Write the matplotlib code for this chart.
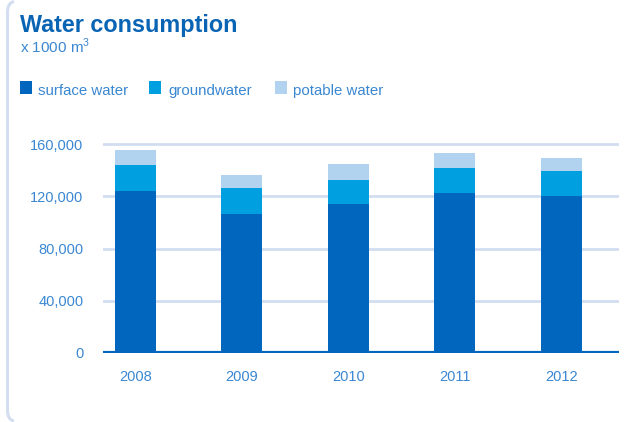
import matplotlib
matplotlib.use("Agg")
import matplotlib.pyplot as plt
from matplotlib.path import Path
from matplotlib.patches import PathPatch
import numpy as np

plt.rcParams['font.family'] = ['Liberation Sans', 'DejaVu Sans']
plt.rcParams['mathtext.fontset'] = 'custom'
plt.rcParams['mathtext.rm'] = 'Liberation Sans'

years = ["2008", "2009", "2010", "2011", "2012"]
surface_water = [124000, 106400, 114100, 122500, 120200]
groundwater = [19900, 19900, 18300, 19100, 19100]
potable_water = [11500, 10000, 12300, 11500, 10000]
y_ticks = [0, 40000, 80000, 120000, 160000]
y_tick_labels = ["0", "40,000", "80,000", "120,000", "160,000"]

c_surface = "#0066be"
c_ground = "#009fe0"
c_potable = "#b1d3f0"
c_grid = "#d2def0"
c_text = "#3a87d2"
c_title = "#0a64b4"

W, H = 644, 422
fig = plt.figure(figsize=(W / 100, H / 100), dpi=100)

# left frame with rounded ends
frame = Path([(14 / W, 1 - 1.5 / H), (7.5 / W, 1 - 3 / H), (7.5 / W, 1 - 12 / H),
              (7.5 / W, 1 - 410 / H), (7.5 / W, 1 - 420 / H), (14 / W, 1 - 421 / H)],
             [Path.MOVETO, Path.CURVE3, Path.CURVE3, Path.LINETO, Path.CURVE3, Path.CURVE3])
fig.patches.append(PathPatch(frame, transform=fig.transFigure, fill=False,
                             edgecolor="#d3def0", linewidth=2.2))

fig.text(20 / W, 1 - 32 / H, "Water consumption", fontsize=16.8, fontweight="bold",
         color=c_title, ha="left", va="baseline")
fig.text(20 / W, 1 - 53 / H, r"x 1000 m$^\mathrm{3}$", fontsize=11, color=c_text,
         ha="left", va="baseline")

# legend row
legend_items = [("surface water", c_surface, 20, 38),
                ("groundwater", c_ground, 149, 168),
                ("potable water", c_potable, 275, 293)]
for label, col, sx, tx in legend_items:
    fig.patches.append(plt.Rectangle((sx / W, 1 - 94 / H), 12 / W, 13 / H,
                                     transform=fig.transFigure, facecolor=col,
                                     edgecolor="none"))
    fig.text(tx / W, 1 - 95 / H, label, fontsize=10.8, color=c_text,
             ha="left", va="baseline")

top_px = 353 - 165 / 160 * 209
ax = fig.add_axes([103 / W, 1 - 353 / H, (619 - 103) / W, (353 - top_px) / H])

x = np.arange(len(years))
bw = 0.385
s = np.array(surface_water)
g = np.array(groundwater)
p = np.array(potable_water)
ax.bar(x, s, bw, color=c_surface, zorder=2)
ax.bar(x, g, bw, bottom=s, color=c_ground, zorder=2)
ax.bar(x, p, bw, bottom=s + g, color=c_potable, zorder=2)

for t in y_ticks[1:]:
    ax.axhline(t, color=c_grid, linewidth=2.0, zorder=1)
ax.axhline(0, color=c_surface, linewidth=3, zorder=3)

ax.set_xlim(-0.305, 4.54)
ax.set_ylim(0, 165000)
ax.set_yticks(y_ticks)
ax.set_yticklabels(y_tick_labels)
ax.set_xticks(x)
ax.set_xticklabels(years)
ax.tick_params(axis="both", length=0, labelsize=10.5, labelcolor=c_text)
ax.tick_params(axis="y", pad=14)
ax.tick_params(axis="x", pad=12)
for sp in ax.spines.values():
    sp.set_visible(False)

fig.savefig("out.png", dpi=100)
